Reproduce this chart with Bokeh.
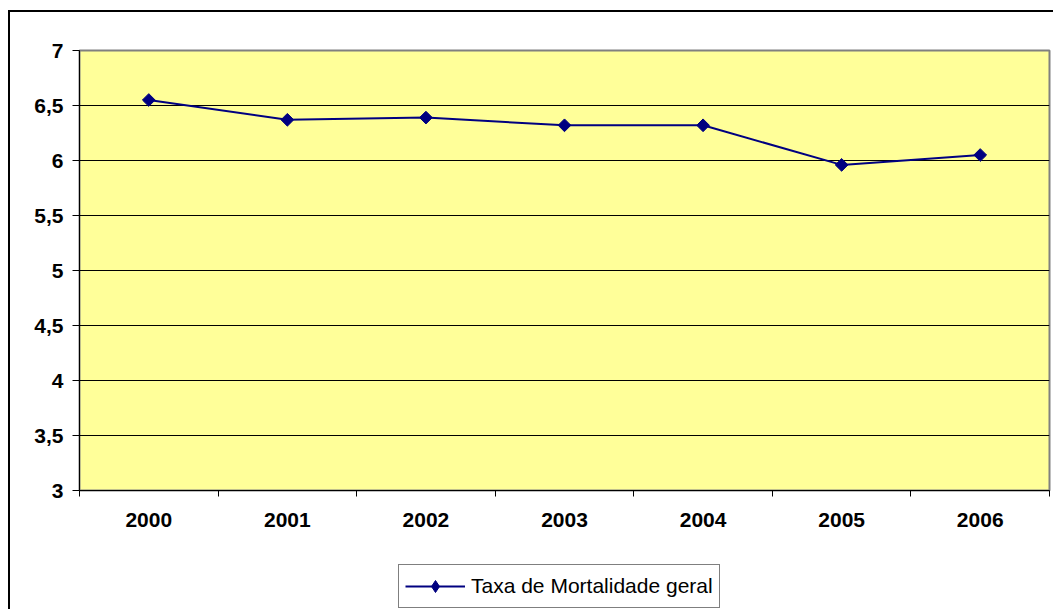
import numpy as np
from bokeh.plotting import figure
from bokeh.layouts import column
from bokeh.models import Range1d, FixedTicker, Legend, LegendItem
from bokeh.embed import file_html
from bokeh.resources import INLINE

years = [2000, 2001, 2002, 2003, 2004, 2005, 2006]
year_labels = ["2000", "2001", "2002", "2003", "2004", "2005", "2006"]
taxa = [6.55, 6.37, 6.39, 6.32, 6.32, 5.96, 6.05]
y_ticks = [3, 3.5, 4, 4.5, 5, 5.5, 6, 6.5, 7]
y_tick_labels = ["3", "3,5", "4", "4,5", "5", "5,5", "6", "6,5", "7"]
series_name = "Taxa de Mortalidade geral"

LINE_COLOR = "#000080"

p = figure(frame_width=970, frame_height=440,
           min_border_left=69, min_border_right=4,
           min_border_top=38, min_border_bottom=60,
           x_range=Range1d(years[0] - 0.5, years[-1] + 0.5),
           y_range=Range1d(3, 7),
           output_backend="svg", toolbar_location=None)

p.background_fill_color = "#FFFF99"
p.border_fill_color = "white"
p.outline_line_color = "#808080"
p.outline_line_width = 2

# y axis
p.yaxis.ticker = FixedTicker(ticks=y_ticks)
p.yaxis.major_label_overrides = {t: l for t, l in zip(y_ticks, y_tick_labels)}
p.yaxis.axis_line_color = "black"
p.yaxis.major_tick_out = 7
p.yaxis.major_tick_in = 0
p.yaxis.minor_tick_line_color = None
p.yaxis.major_label_text_font = "Liberation Sans"
p.yaxis.major_label_text_font_style = "bold"
p.yaxis.major_label_text_font_size = "21px"
p.yaxis.major_label_text_color = "black"
p.yaxis.major_label_standoff = 9

# x axis: labels at centers, ticks at boundaries
bounds = [y - 0.5 for y in years] + [years[-1] + 0.5]
p.xaxis.ticker = FixedTicker(ticks=years, minor_ticks=bounds)
p.xaxis.major_label_overrides = {y: l for y, l in zip(years, year_labels)}
p.xaxis.axis_line_color = "black"
p.xaxis.major_tick_out = 0
p.xaxis.major_tick_in = 0
p.xaxis.major_tick_line_color = None
p.xaxis.minor_tick_out = 6
p.xaxis.minor_tick_in = 0
p.xaxis.minor_tick_line_color = "black"
p.xaxis.major_label_text_font = "Liberation Sans"
p.xaxis.major_label_text_font_style = "bold"
p.xaxis.major_label_text_font_size = "21px"
p.xaxis.major_label_text_color = "black"
p.xaxis.major_label_standoff = 16

# grid
p.xgrid.grid_line_color = None
p.ygrid.ticker = FixedTicker(ticks=y_ticks[1:-1])
p.ygrid.grid_line_color = "black"
p.ygrid.grid_line_width = 1

p.line(years, taxa, line_color=LINE_COLOR, line_width=2)
p.scatter(years, taxa, marker="square", angle=np.pi / 4, size=9,
          fill_color=LINE_COLOR, line_color=LINE_COLOR)

# legend strip below the chart (its series copies lie outside its view)
q = figure(width=1043, height=59, min_border=0,
           x_range=Range1d(0, 1), y_range=Range1d(0, 1),
           x_axis_type=None, y_axis_type=None,
           output_backend="svg", toolbar_location=None)
q.outline_line_color = None
q.background_fill_color = "white"
q.border_fill_color = "white"
q.xgrid.grid_line_color = None
q.ygrid.grid_line_color = None
lg_line = q.line(years, taxa, line_color=LINE_COLOR, line_width=2)
lg_pts = q.scatter(years, taxa, marker="diamond", size=12,
                   fill_color=LINE_COLOR, line_color=LINE_COLOR)

legend = Legend(items=[LegendItem(label=series_name, renderers=[lg_line, lg_pts])],
                location=(319, 1), orientation="horizontal",
                glyph_width=60, glyph_height=30, label_standoff=6,
                padding=6, margin=0,
                border_line_color="black", border_line_width=1,
                background_fill_color="white", background_fill_alpha=1,
                label_text_font="Liberation Sans", label_text_font_size="21px",
                label_text_color="black")
q.add_layout(legend, "center")

layout = column(p, q, spacing=0,
                styles={"margin-left": "8px", "margin-top": "10px",
                        "border-left": "2px solid black",
                        "border-top": "2px solid black"})

open("out.html", "w").write(file_html(layout, INLINE))
